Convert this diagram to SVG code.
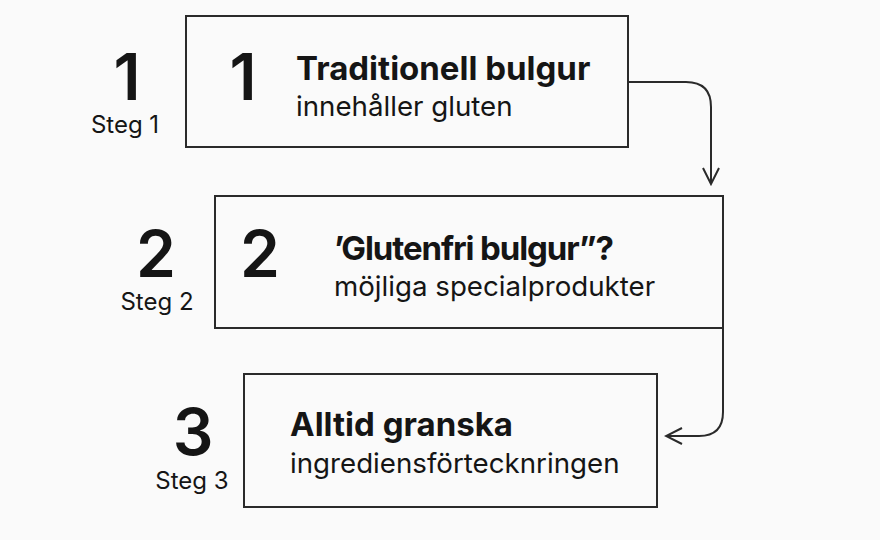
<svg xmlns="http://www.w3.org/2000/svg" width="880" height="540" viewBox="0 0 880 540">
<defs>
<style>
.box{fill:#fafafa;stroke:#2a2a2a;stroke-width:2}
.num{font-family:Inter,"Liberation Sans",sans-serif;font-size:64px;font-weight:600;fill:#151515;text-anchor:middle}
.steg{font-family:Inter,"Liberation Sans",sans-serif;font-size:24px;fill:#151515;text-anchor:middle}
.title{font-family:Inter,"Liberation Sans",sans-serif;font-size:33px;font-weight:700;fill:#151515}
.sub{font-family:Inter,"Liberation Sans",sans-serif;font-size:27.7px;fill:#151515}
.conn{fill:none;stroke:#2a2a2a;stroke-width:2}
</style>
<marker id="arr" viewBox="0 0 20 20" refX="18" refY="10" markerWidth="20" markerHeight="20" markerUnits="userSpaceOnUse" orient="auto">
<path d="M2 2 L18 10 L2 18" fill="none" stroke="#2a2a2a" stroke-width="2"/>
</marker>
</defs>
<rect width="880" height="540" fill="#fafafa"/>
<g id="connectors">
<path class="conn" d="M628 82 H686 Q711 82 711 107 V184" marker-end="url(#arr)"/>
<path class="conn" d="M723 328 V412 Q723 436 699 436 H666" marker-end="url(#arr)"/>
</g>
<g id="node1">
<text class="num" x="127" y="100">1</text>
<text class="steg" x="125" y="133">Steg 1</text>
<rect class="box" x="186" y="16" width="442" height="131"/>
<text class="num" x="243" y="100">1</text>
<text class="title" x="296" y="80">Traditionell bulgur</text>
<text class="sub" x="296" y="116">innehåller gluten</text>
</g>
<g id="node2">
<text class="num" x="156" y="277">2</text>
<text class="steg" x="157" y="310">Steg 2</text>
<rect class="box" x="215" y="196" width="508" height="132"/>
<text class="num" x="260" y="277">2</text>
<text class="title" x="334" y="260" textLength="280" lengthAdjust="spacing">’Glutenfri bulgur”?</text>
<text class="sub" x="334" y="296">möjliga specialprodukter</text>
</g>
<g id="node3">
<text class="num" x="193" y="455">3</text>
<text class="steg" x="192" y="489">Steg 3</text>
<rect class="box" x="244" y="374" width="413" height="133"/>
<text class="title" x="290" y="436">Alltid granska</text>
<text class="sub" x="290" y="473">ingrediensförtecknringen</text>
</g>
</svg>
